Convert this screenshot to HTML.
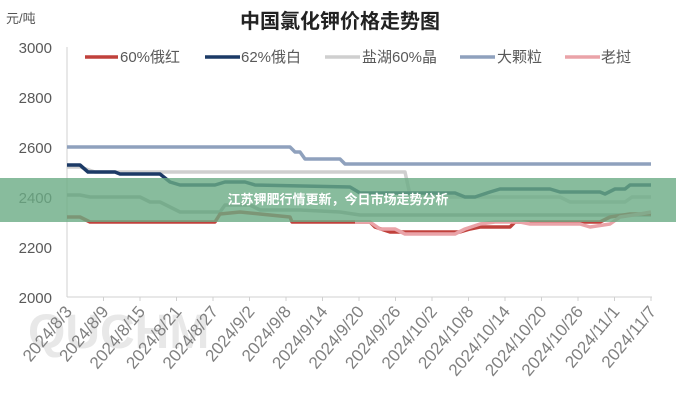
<!DOCTYPE html><html><head><meta charset="utf-8"><style>
body{margin:0;width:676px;height:400px;background:#fff;overflow:hidden;font-family:"Liberation Sans","Noto Sans CJK SC",sans-serif}
</style></head><body>
<svg width="676" height="400" viewBox="0 0 676 400" xmlns="http://www.w3.org/2000/svg" style="position:absolute;left:0;top:0">
<text x="6" y="23" font-size="13" fill="#555" font-family="Liberation Sans,Noto Sans CJK SC,sans-serif">元/吨</text>
<text x="340" y="28" font-size="20" font-weight="bold" fill="#222" text-anchor="middle" font-family="Liberation Sans,Noto Sans CJK SC,sans-serif">中国氯化钾价格走势图</text>
<g font-size="15" fill="#595959" text-anchor="end" font-family="Liberation Sans,sans-serif">
<text x="52" y="53">3000</text><text x="52" y="103">2800</text><text x="52" y="153">2600</text><text x="52" y="203">2400</text><text x="52" y="253">2200</text><text x="52" y="303">2000</text>
</g>
<line x1="67" y1="47" x2="67" y2="297" stroke="#d0d0d0"/>
<line x1="67" y1="297" x2="652" y2="297" stroke="#d0d0d0"/>
<g stroke="#d0d0d0">
<line x1="103.5" y1="297" x2="103.5" y2="301"/><line x1="140" y1="297" x2="140" y2="301"/><line x1="176.5" y1="297" x2="176.5" y2="301"/><line x1="213" y1="297" x2="213" y2="301"/><line x1="249.5" y1="297" x2="249.5" y2="301"/><line x1="286" y1="297" x2="286" y2="301"/><line x1="322.5" y1="297" x2="322.5" y2="301"/><line x1="359" y1="297" x2="359" y2="301"/><line x1="395.5" y1="297" x2="395.5" y2="301"/><line x1="432" y1="297" x2="432" y2="301"/><line x1="468.5" y1="297" x2="468.5" y2="301"/><line x1="505" y1="297" x2="505" y2="301"/><line x1="541.5" y1="297" x2="541.5" y2="301"/><line x1="578" y1="297" x2="578" y2="301"/><line x1="614.5" y1="297" x2="614.5" y2="301"/><line x1="651" y1="297" x2="651" y2="301"/>
</g>
<text x="28" y="348" font-size="48" font-weight="bold" fill="#e8e8e8" font-family="Liberation Sans,sans-serif">QUCHM</text>
<g font-size="17" fill="#808080" text-anchor="end" font-family="Liberation Sans,sans-serif">
<text transform="translate(73,312) rotate(-50)">2024/8/3</text>
<text transform="translate(109.5,312) rotate(-50)">2024/8/9</text>
<text transform="translate(146,312) rotate(-50)">2024/8/15</text>
<text transform="translate(182.5,312) rotate(-50)">2024/8/21</text>
<text transform="translate(219,312) rotate(-50)">2024/8/27</text>
<text transform="translate(255.5,312) rotate(-50)">2024/9/2</text>
<text transform="translate(292,312) rotate(-50)">2024/9/8</text>
<text transform="translate(328.5,312) rotate(-50)">2024/9/14</text>
<text transform="translate(365,312) rotate(-50)">2024/9/20</text>
<text transform="translate(401.5,312) rotate(-50)">2024/9/26</text>
<text transform="translate(438,312) rotate(-50)">2024/10/2</text>
<text transform="translate(474.5,312) rotate(-50)">2024/10/8</text>
<text transform="translate(511,312) rotate(-50)">2024/10/14</text>
<text transform="translate(547.5,312) rotate(-50)">2024/10/20</text>
<text transform="translate(584,312) rotate(-50)">2024/10/26</text>
<text transform="translate(620.5,312) rotate(-50)">2024/11/1</text>
<text transform="translate(657,312) rotate(-50)">2024/11/7</text>
</g>
<g fill="none" stroke-width="3.5" stroke-linejoin="round">
<polyline stroke="#8fa1bd" points="67,147 290,147 295,152 300,152 305,159 340,159 345,164 651,164"/>
<polyline stroke="#cfcfcf" points="67,167 80,167 95,172 405,172 410,195 440,197 560,197 570,202 625,202 632,197 651,197"/>
<polyline stroke="#b0b0b0" points="67,195 80,195 90,197 140,197 150,202 160,202 170,207 180,212 220,212 225,205 250,205 260,210 300,210 340,212 360,215 651,215"/>
<polyline stroke="#1c3a66" points="67,165 80,165 88,172 115,172 120,174 160,174 170,182 180,185 215,185 225,182 245,182 255,185 350,187 360,193 455,193 465,197 475,197 490,192 500,189 550,189 560,192 600,192 605,194 615,189 625,189 630,185 651,185"/>
<polyline stroke="#c0413c" points="67,217 80,217 90,222 215,222 220,214 240,212 260,214 290,217 292,222 370,222 375,227 390,232 460,232 470,229 480,227 510,227 515,222 600,222 610,217 630,214 651,214"/>
<polyline stroke="#eaa3a8" points="355,222 370,222 380,229 395,229 405,234 455,234 465,229 480,224 495,222 520,222 530,224 580,224 590,227 610,224 620,217 640,214 651,212"/>
</g>
<g font-size="15" fill="#595959" font-family="Liberation Sans,Noto Sans CJK SC,sans-serif">
<line x1="85" y1="57" x2="118" y2="57" stroke="#c0413c" stroke-width="3.5"/><text x="120" y="62">60%俄红</text>
<line x1="205" y1="57" x2="240" y2="57" stroke="#1c3a66" stroke-width="3.5"/><text x="241" y="62">62%俄白</text>
<line x1="325" y1="57" x2="360" y2="57" stroke="#cfcfcf" stroke-width="3.5"/><text x="362" y="62">盐湖60%晶</text>
<line x1="460" y1="57" x2="495" y2="57" stroke="#8fa1bd" stroke-width="3.5"/><text x="497" y="62">大颗粒</text>
<line x1="565" y1="57" x2="600" y2="57" stroke="#eaa3a8" stroke-width="3.5"/><text x="601" y="62">老挝</text>
</g>
<rect x="0" y="178" width="676" height="44" fill="#6aab85" opacity="0.8"/>
<text x="338" y="204" font-size="13" font-weight="bold" fill="#fff" text-anchor="middle" font-family="Liberation Sans,Noto Sans CJK SC,sans-serif">江苏钾肥行情更新，今日市场走势分析</text>
</svg>
</body></html>
